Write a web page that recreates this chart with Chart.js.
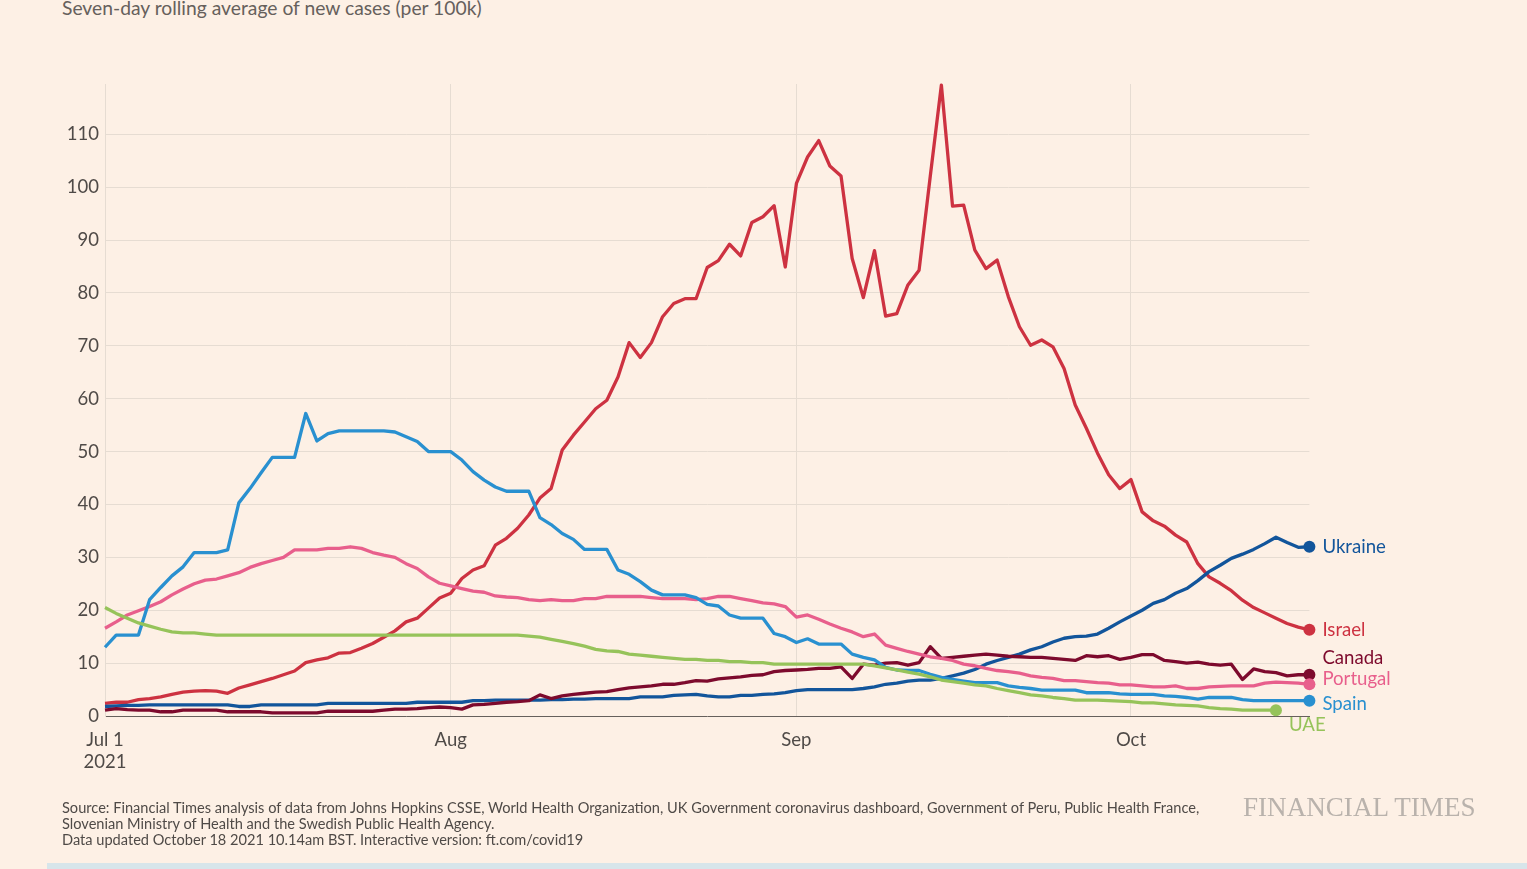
<!DOCTYPE html>
<html><head><meta charset="utf-8">
<script src="https://cdn.jsdelivr.net/npm/chart.js@4.4.0/dist/chart.umd.min.js"></script>
<style>
html,body{margin:0;padding:0;background:#fdf0e5;width:1527px;height:869px;overflow:hidden;position:relative;font-family:Lato,sans-serif;}
#c{position:absolute;left:0;top:0;}
.title{position:absolute;left:62px;top:-2px;font-size:19.3px;line-height:19px;color:#66605c;white-space:nowrap;}
.source{position:absolute;left:62px;top:800px;font-size:14.6px;line-height:16px;color:#4f4a47;white-space:nowrap;}
.logo{position:absolute;left:1243px;top:794px;font-family:"Liberation Serif",serif;font-size:27.1px;line-height:27px;color:#b9b2ac;white-space:nowrap;}
.band{position:absolute;left:47px;top:863px;width:1480px;height:6px;background:#d7e5ea;}
</style></head><body>
<div class="title">Seven-day rolling average of new cases (per 100k)</div>
<canvas id="c" width="1527" height="869"></canvas>
<div class="source">Source: Financial Times analysis of data from Johns Hopkins CSSE, World Health Organization, UK Government coronavirus dashboard, Government of Peru, Public Health France,<br>Slovenian Ministry of Health and the Swedish Public Health Agency.<br>Data updated October 18 2021 10.14am BST. Interactive version: ft.com/covid19</div>
<div class="logo">FINANCIAL TIMES</div>
<div class="band"></div>
<script>
// Day index 0 = 1 Jul 2021, one value per day
const xTicks = [0, 31, 62, 92];
const xTickLabels = [['Jul 1', '2021'], 'Aug', 'Sep', 'Oct'];
const yTicks = [0, 10, 20, 30, 40, 50, 60, 70, 80, 90, 100, 110];

const spain = [13.0,15.3,15.3,15.3,22.0,24.3,26.5,28.2,30.9,30.9,30.9,31.4,40.3,43.0,46.0,48.9,48.9,48.9,57.2,52.0,
53.4,53.9,53.9,53.9,53.9,53.9,53.7,52.8,51.9,50.0,50.0,50.0,48.4,46.2,44.6,43.3,42.5,42.5,42.5,37.5,
36.2,34.5,33.4,31.5,31.5,31.5,27.6,26.8,25.4,23.8,22.9,22.9,22.9,22.4,21.1,20.8,19.1,18.5,18.5,18.5,
15.6,15.0,13.9,14.6,13.6,13.6,13.6,11.7,11.1,10.6,9.2,8.7,8.6,8.6,7.9,7.3,6.9,6.6,6.3,6.3,
6.3,5.7,5.4,5.2,4.9,4.9,4.9,4.9,4.4,4.4,4.4,4.2,4.1,4.1,4.1,3.8,3.7,3.5,3.2,3.5,
3.5,3.5,3.1,2.9,2.9,2.9,2.9,2.9,2.9];

const portugal = [16.6,17.8,19.1,19.9,20.7,21.6,22.9,24.0,25.0,25.7,25.9,26.5,27.1,28.1,28.8,29.4,30.0,31.4,31.4,31.4,
31.7,31.7,32.0,31.7,30.9,30.4,30.0,28.8,27.9,26.3,25.1,24.6,24.1,23.6,23.4,22.7,22.5,22.4,22.0,21.8,
22.0,21.8,21.8,22.2,22.2,22.6,22.6,22.6,22.6,22.4,22.2,22.2,22.2,22.0,22.2,22.6,22.6,22.2,21.8,21.4,
21.2,20.7,18.7,19.1,18.3,17.4,16.6,15.9,15.0,15.5,13.4,12.8,12.2,11.7,11.2,10.9,10.5,9.8,9.5,9.0,
8.6,8.4,8.1,7.6,7.3,7.1,6.7,6.7,6.5,6.3,6.2,5.9,5.9,5.7,5.5,5.5,5.7,5.2,5.2,5.5,
5.6,5.7,5.7,5.7,6.2,6.4,6.3,6.2,6.0];

const uae = [20.5,19.4,18.5,17.6,17.0,16.4,15.9,15.7,15.7,15.5,15.3,15.3,15.3,15.3,15.3,15.3,15.3,15.3,15.3,15.3,
15.3,15.3,15.3,15.3,15.3,15.3,15.3,15.3,15.3,15.3,15.3,15.3,15.3,15.3,15.3,15.3,15.3,15.3,15.1,14.9,
14.5,14.1,13.7,13.2,12.6,12.3,12.2,11.7,11.5,11.3,11.1,10.9,10.7,10.7,10.5,10.5,10.3,10.3,10.1,10.1,
9.8,9.8,9.8,9.8,9.8,9.8,9.8,9.8,9.8,9.5,9.1,8.7,8.3,7.9,7.4,6.8,6.5,6.2,5.9,5.7,
5.2,4.8,4.4,4.0,3.8,3.5,3.3,3.0,3.0,3.0,2.9,2.8,2.7,2.5,2.5,2.3,2.1,2.0,1.9,1.6,
1.4,1.3,1.1,1.1,1.1,1.1];

const ukraine = [1.8,1.9,2.0,2.0,2.1,2.1,2.1,2.1,2.1,2.1,2.1,2.1,1.8,1.8,2.1,2.1,2.1,2.1,2.1,2.1,
2.4,2.4,2.4,2.4,2.4,2.4,2.4,2.4,2.6,2.6,2.6,2.6,2.6,2.9,2.9,3.0,3.0,3.0,3.0,3.0,
3.1,3.1,3.2,3.2,3.3,3.3,3.3,3.3,3.6,3.6,3.6,3.9,4.0,4.1,3.8,3.6,3.6,3.9,3.9,4.1,
4.2,4.4,4.8,5.0,5.0,5.0,5.0,5.0,5.2,5.5,6.0,6.2,6.6,6.8,6.8,7.1,7.6,8.1,8.8,9.8,
10.5,11.1,11.7,12.5,13.1,14.0,14.7,15.0,15.1,15.5,16.6,17.8,18.9,20.0,21.3,22.0,23.2,24.1,25.6,27.3,
28.5,29.8,30.6,31.5,32.6,33.8,32.8,31.9,32.0];

const canada = [1.1,1.4,1.2,1.1,1.1,0.8,0.8,1.1,1.1,1.1,1.1,0.8,0.8,0.8,0.8,0.6,0.6,0.6,0.6,0.6,
0.9,0.9,0.9,0.9,0.9,1.1,1.3,1.3,1.4,1.6,1.7,1.6,1.3,2.1,2.2,2.4,2.6,2.7,2.9,4.0,
3.3,3.8,4.1,4.3,4.5,4.6,5.0,5.3,5.5,5.7,6.0,6.0,6.3,6.7,6.6,7.0,7.2,7.4,7.7,7.8,
8.4,8.6,8.7,8.8,9.0,9.0,9.3,7.1,9.8,9.6,10.0,10.1,9.6,10.1,13.1,10.9,11.1,11.3,11.5,11.7,
11.5,11.3,11.2,11.1,11.1,10.9,10.7,10.5,11.4,11.2,11.4,10.7,11.1,11.6,11.6,10.5,10.3,10.0,10.2,9.8,
9.6,9.8,6.9,8.9,8.4,8.2,7.6,7.8,7.8];

const israel = [2.4,2.6,2.6,3.1,3.3,3.6,4.1,4.5,4.7,4.8,4.7,4.3,5.3,5.9,6.5,7.1,7.8,8.5,10.1,10.6,
11.0,11.9,12.0,12.8,13.7,14.9,16.1,17.8,18.5,20.4,22.3,23.2,26.0,27.6,28.4,32.3,33.6,35.5,38.0,41.2,
43.0,50.3,53.1,55.6,58.1,59.7,64.1,70.6,67.8,70.6,75.5,78.0,78.9,78.9,84.8,86.1,89.2,87.0,93.3,94.4,
96.5,84.9,100.7,105.7,108.8,104.0,102.1,86.5,79.1,88.0,75.6,76.1,81.5,84.3,102.0,119.3,96.4,96.6,88.1,84.6,
86.2,79.3,73.6,70.1,71.1,69.8,65.7,58.8,54.4,49.7,45.6,43.0,44.7,38.6,36.9,35.9,34.2,32.9,28.8,26.3,
25.1,23.7,21.9,20.5,19.5,18.5,17.5,16.8,16.3];

const seriesNames = ['UAE', 'Spain', 'Portugal', 'Canada', 'Ukraine', 'Israel'];
const seriesValues = [uae, spain, portugal, canada, ukraine, israel];
const seriesColors = ['#96c35a', '#2990d0', '#e85f8c', '#7d0a2d', '#12559b', '#cd3241'];
// label placement relative to each line's end dot
const labelOffsets = {
  'UAE': [13, 15], 'Spain': [13, 3], 'Portugal': [13, -5],
  'Canada': [13, -17], 'Ukraine': [13, 0], 'Israel': [13, 0]
};

const endLabels = {
  id: 'endLabels',
  afterDatasetsDraw(chart) {
    const ctx = chart.ctx;
    chart.data.datasets.forEach((ds, i) => {
      const meta = chart.getDatasetMeta(i);
      const pt = meta.data[meta.data.length - 1];
      const off = labelOffsets[ds.label];
      ctx.save();
      ctx.font = '18.6px Lato';
      ctx.fillStyle = ds.borderColor;
      ctx.textBaseline = 'middle';
      ctx.textAlign = 'left';
      ctx.fillText(ds.label, pt.x + off[0], pt.y + off[1]);
      ctx.restore();
    });
  }
};

const gridColor = '#e6dcd2';
const textColor = '#4f4a47';

new Chart(document.getElementById('c'), {
  type: 'line',
  data: {
    datasets: seriesNames.map((name, k) => ({
      label: name,
      data: seriesValues[k].map((v, i) => ({x: i, y: v})),
      borderColor: seriesColors[k],
      backgroundColor: seriesColors[k],
      borderWidth: 3.3,
      tension: 0,
      fill: false,
      clip: false,
      borderJoinStyle: 'round',
      pointRadius: (c) => c.dataIndex === seriesValues[k].length - 1 ? 6 : 0,
      pointBorderWidth: 0,
      pointHoverRadius: 0
    }))
  },
  options: {
    responsive: false,
    animation: false,
    events: [],
    plugins: {legend: {display: false}, tooltip: {enabled: false}},
    layout: {padding: {left: 0, right: 217.6, top: 84, bottom: 93}},
    scales: {
      x: {
        type: 'linear', min: 0, max: 108,
        afterFit: (s) => { s.height = 60; },
        afterBuildTicks: (s) => { s.ticks = xTicks.map(v => ({value: v})); },
        ticks: {autoSkip: false, maxRotation: 0, padding: 13, color: textColor,
          font: {family: 'Lato', size: 18.5},
          callback: (v, i) => xTickLabels[i]},
        grid: {color: gridColor, lineWidth: 1, drawTicks: false},
        border: {display: true, color: '#66605c', width: 1}
      },
      y: {
        min: 0, max: 119.5,
        afterFit: (s) => { s.width = 105; },
        afterBuildTicks: (s) => { s.ticks = yTicks.map(v => ({value: v})); },
        ticks: {padding: 6, color: textColor, font: {family: 'Lato', size: 18.5},
          callback: (v) => String(v)},
        grid: {color: (c) => (c.tick && c.tick.value === 0) ? 'rgba(0,0,0,0)' : gridColor, lineWidth: 1, drawTicks: false},
        border: {display: true, color: gridColor, width: 1}
      }
    }
  },
  plugins: [endLabels]
});
</script>
</body></html>
